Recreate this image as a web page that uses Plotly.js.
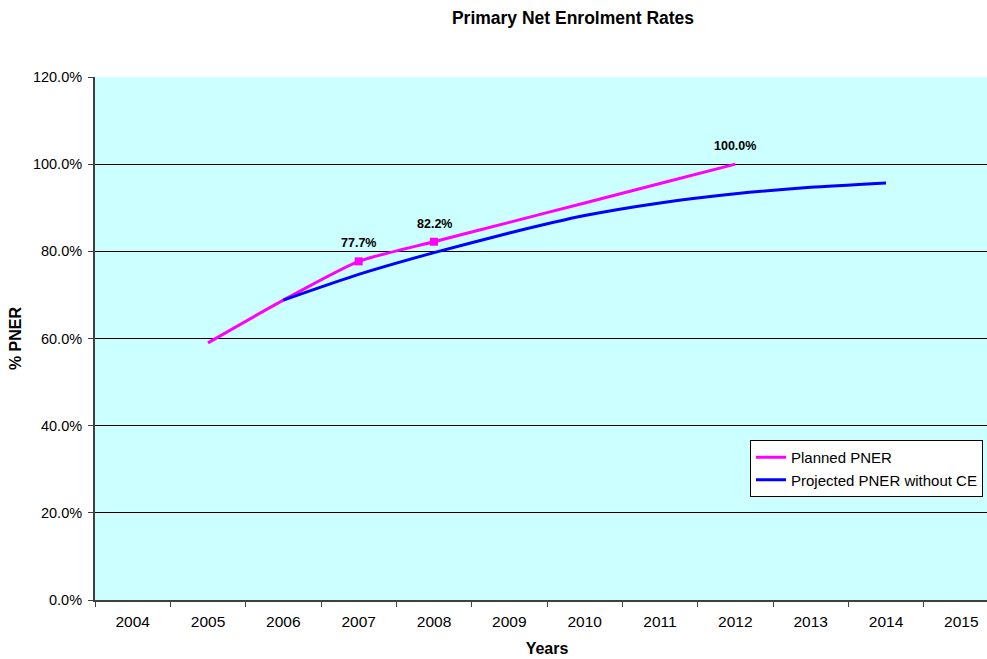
<!DOCTYPE html>
<html>
<head>
<meta charset="utf-8">
<script src="https://cdn.plot.ly/plotly-3.0.1.min.js"></script>
<style>
html,body{margin:0;padding:0;overflow:hidden;background:#fff;}
#chart{width:1000px;height:659px;}
</style>
</head>
<body>
<div id="chart"></div>
<script>
const years = ['2004','2005','2006','2007','2008','2009','2010','2011','2012','2013','2014','2015'];
const plannedYears = ['2005','2006','2007','2008','2009','2010','2011','2012'];
const plannedValues = [59.0, 68.8, 77.7, 82.2, 86.65, 91.1, 95.55, 100.0];
const projectedYears = ['2006','2007','2008','2009','2010','2011','2012','2013','2014'];
const projectedValues = [68.8, 74.7, 79.7, 84.2, 88.2, 91.1, 93.2, 94.7, 95.7];
const markerYears = ['2007','2008'];
const labelYears = ['2007','2008','2012'];

const FONT = 'Arial, "Liberation Sans", sans-serif';
const markerVals = markerYears.map(y => plannedValues[plannedYears.indexOf(y)]);
const labelVals = labelYears.map(y => plannedValues[plannedYears.indexOf(y)]);

const traces = [
  {
    x: plannedYears, y: plannedValues, type: 'scatter', mode: 'lines',
    name: 'Planned PNER',
    line: {color: '#FF00FF', width: 3, shape: 'spline', smoothing: 0.6}
  },
  {
    x: projectedYears, y: projectedValues, type: 'scatter', mode: 'lines',
    name: 'Projected PNER without CE',
    line: {color: '#0000FF', width: 3, shape: 'spline', smoothing: 0.6}
  },
  {
    x: markerYears, y: markerVals, type: 'scatter', mode: 'markers',
    showlegend: false, hoverinfo: 'skip',
    marker: {symbol: 'square', size: 8, color: '#FF00FF'}
  }
];

const annotations = labelYears.map((y, i) => ({
  x: years.indexOf(y), y: labelVals[i], xref: 'x', yref: 'y',
  text: '<b>' + labelVals[i].toFixed(1) + '%</b>', showarrow: false,
  xanchor: 'center', yanchor: 'middle',
  yshift: 18, font: {family: FONT, size: 12.5, color: '#000000'}
}));

const layout = {
  width: 1000, height: 659,
  margin: {l: 95, r: 1, t: 77, b: 59},
  paper_bgcolor: '#FFFFFF',
  plot_bgcolor: '#CCFFFF',
  font: {family: FONT, size: 13, color: '#000'},
  title: {
    text: '<b>Primary Net Enrolment Rates</b>',
    font: {family: FONT, size: 17.5, color: '#000'},
    xref: 'container', x: 0.573, xanchor: 'center',
    yref: 'container', y: 1 - 18/659, yanchor: 'middle'
  },
  xaxis: {
    type: 'category', categoryarray: years, categoryorder: 'array',
    range: [-0.5, 11.5],
    tickson: 'boundaries', ticks: 'outside', ticklen: 5, tickcolor: '#404040',
    ticklabelstandoff: 6,
    showline: true, linecolor: '#404040', linewidth: 2,
    showgrid: false, zeroline: false,
    tickfont: {family: FONT, size: 15.5, color: '#000'},
    title: {text: '<b>Years</b>', font: {family: FONT, size: 16, color: '#000'}, standoff: 14}
  },
  yaxis: {
    range: [0, 120], dtick: 20, tick0: 0,
    tickformat: '.1f', ticksuffix: '%',
    ticks: 'outside', ticklen: 5, tickcolor: '#404040',
    ticklabelstandoff: 3,
    showline: true, linecolor: '#404040', linewidth: 2,
    showgrid: true, gridcolor: '#000000', gridwidth: 1,
    zeroline: false,
    tickfont: {family: FONT, size: 14.5, color: '#000'},
    title: {text: '<b>% PNER</b>', font: {family: FONT, size: 16, color: '#000'}, standoff: 7}
  },
  legend: {
    x: (750 - 95) / 904, y: (600 - 440) / 523, xanchor: 'left', yanchor: 'top',
    bgcolor: '#FFFFFF', bordercolor: '#000000', borderwidth: 1,
    font: {family: FONT, size: 15, color: '#000'},
    tracegroupgap: 0
  },
  annotations: annotations,
  showlegend: true
};

Plotly.newPlot('chart', traces, layout, {displayModeBar: false, staticPlot: true});
</script>
</body>
</html>
